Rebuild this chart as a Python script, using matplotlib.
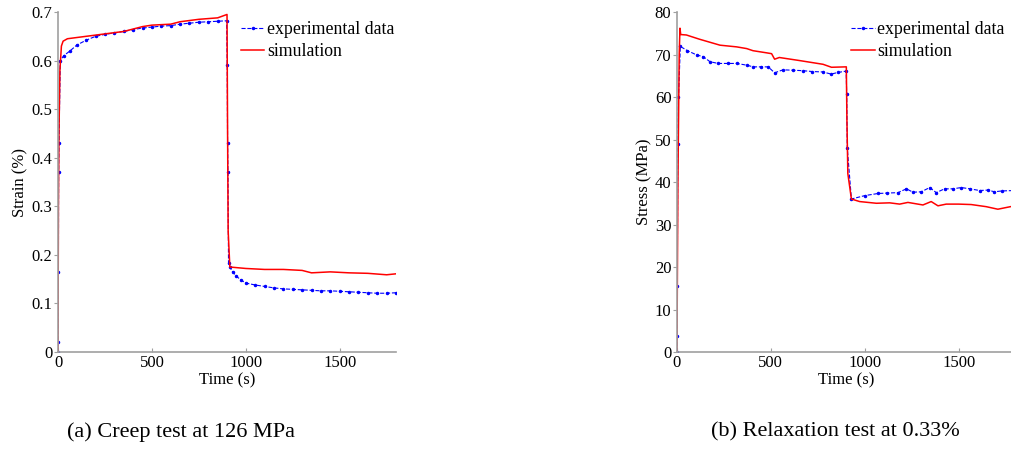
import matplotlib.pyplot as plt

plt.rcParams['font.family'] = ['Liberation Serif', 'DejaVu Serif']
plt.rcParams['font.size'] = 12

# creep test at 126 MPa
creep_exp_t = [0, 1, 2, 3, 5, 12, 30, 64, 100, 150, 200, 250, 300, 350, 400, 450, 500,
               550, 600, 650, 700, 750, 800, 850, 898, 901, 903, 905, 908, 915, 930,
               950, 975, 1000, 1050, 1100, 1150, 1200, 1250, 1300, 1350, 1400, 1450,
               1500, 1550, 1600, 1650, 1700, 1750, 1800]
creep_exp_v = [0, 0.02, 0.165, 0.37, 0.43, 0.6, 0.61, 0.62, 0.632, 0.642, 0.65, 0.654,
               0.657, 0.66, 0.664, 0.667, 0.669, 0.671, 0.672, 0.675, 0.677, 0.679,
               0.68, 0.681, 0.682, 0.59, 0.43, 0.37, 0.183, 0.175, 0.165, 0.156, 0.148,
               0.142, 0.138, 0.135, 0.132, 0.13, 0.129, 0.128, 0.127, 0.126, 0.126,
               0.125, 0.124, 0.123, 0.122, 0.121, 0.121, 0.122]
creep_sim_t = [0, 2, 5, 10, 18, 27, 50, 150, 250, 350, 400, 450, 500, 600, 650, 750,
               850, 900, 903, 906, 915, 1000, 1100, 1200, 1300, 1350, 1450, 1550,
               1650, 1750, 1800]
creep_sim_v = [0, 0.3, 0.45, 0.58, 0.63, 0.64, 0.645, 0.65, 0.655, 0.66, 0.665, 0.67,
               0.673, 0.675, 0.68, 0.685, 0.688, 0.695, 0.45, 0.25, 0.175, 0.172,
               0.17, 0.17, 0.168, 0.163, 0.165, 0.163, 0.162, 0.159, 0.161]

# relaxation test at 0.33 %
relax_exp_t = [0, 1, 2, 4, 8, 18, 56, 105, 140, 176, 220, 270, 318, 371, 406, 450,
               486, 520, 565, 620, 671, 720, 777, 821, 860, 901, 904, 907, 929, 1000,
               1071, 1120, 1177, 1222, 1257, 1301, 1346, 1381, 1425, 1470, 1514, 1560,
               1612, 1656, 1691, 1730, 1800]
relax_exp_v = [0, 3.8, 15.5, 49, 60, 71.9, 70.9, 69.9, 69.5, 68.3, 67.9, 67.9, 67.9,
               67.5, 67.1, 67.1, 67.1, 65.7, 66.4, 66.3, 66.2, 66.0, 65.9, 65.4, 65.8,
               66.1, 60.6, 48, 36.0, 36.8, 37.3, 37.4, 37.5, 38.4, 37.6, 37.7, 38.7,
               37.5, 38.4, 38.4, 38.7, 38.4, 38.0, 38.1, 37.7, 37.9, 38.0]
relax_sim_t = [0, 5, 12, 16, 20, 50, 120, 229, 318, 371, 405, 477, 504, 520, 545, 650,
               778, 823, 902, 905, 910, 929, 973, 1062, 1133, 1186, 1230, 1310, 1354,
               1390, 1434, 1500, 1567, 1647, 1709, 1776, 1800]
relax_sim_v = [0, 40, 70, 76.2, 74.7, 74.6, 73.6, 72.2, 71.8, 71.4, 70.9, 70.4, 70.2,
               68.9, 69.3, 68.6, 67.7, 67.0, 67.1, 55, 42, 36.0, 35.4, 35.0, 35.1, 34.8,
               35.2, 34.6, 35.4, 34.4, 34.8, 34.8, 34.7, 34.2, 33.6, 34.2, 34.3]

panels = [
    (creep_exp_t, creep_exp_v, creep_sim_t, creep_sim_v, [0.0574, 0.2331, 0.3343, 0.7407],
     (0, 0.7), [0, 0.1, 0.2, 0.3, 0.4, 0.5, 0.6, 0.7], 'Strain (%)', 0.515),
    (relax_exp_t, relax_exp_v, relax_sim_t, relax_sim_v, [0.6696, 0.2331, 0.3343, 0.7407],
     (0, 80), [0, 10, 20, 30, 40, 50, 60, 70, 80], 'Stress (MPa)', 0.49),
]

fig = plt.figure(figsize=(10.11, 4.59), dpi=100)
for et, ev, st, sv, rect, ylim, yt, ylab, legx in panels:
    ax = fig.add_axes(rect)
    ax.plot(et, ev, '--', color='blue', marker='.', markersize=3, lw=0.8,
            label='experimental data')
    ax.plot(st, sv, '-', color='red', lw=1.1, label='simulation')
    ax.set_xlim(0, 1800)
    ax.set_ylim(*ylim)
    ax.set_xticks([0, 500, 1000, 1500])
    ax.set_yticks(yt)
    ax.set_yticklabels([('%g' % v) for v in yt])
    for side in ['top', 'right']:
        ax.spines[side].set_visible(False)
    for side in ['left', 'bottom']:
        ax.spines[side].set_color('#a0a0a0')
        ax.spines[side].set_linewidth(1.2)
    ax.tick_params(axis='x', direction='in', length=3, color='#a0a0a0', pad=2)
    ax.tick_params(axis='y', direction='out', length=3, color='#a0a0a0', pad=1)
    ax.set_xlabel('Time (s)', labelpad=1)
    ax.set_ylabel(ylab, labelpad=2)
    ax.legend(loc='upper left', bbox_to_anchor=(legx, 1.0), frameon=False,
              handlelength=1.3, handletextpad=0.15, labelspacing=0.3,
              borderaxespad=0.1, fontsize=12.8)

fig.text(181 / 1011, 1 - 432 / 459, '(a) Creep test at 126 MPa', fontsize=16,
         ha='center', va='center')
fig.text(835 / 1011, 1 - 432 / 459, '(b) Relaxation test at 0.33%', fontsize=16,
         ha='center', va='center')

fig.savefig('out.png', dpi=100)
